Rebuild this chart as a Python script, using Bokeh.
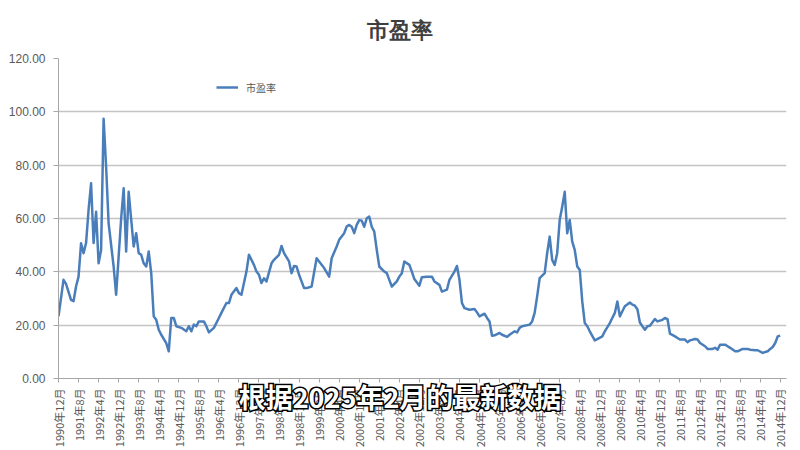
from bokeh.plotting import figure
from bokeh.models import (Range1d, FixedTicker, NumeralTickFormatter, Legend, LegendItem,
                          Title, ColumnDataSource, Div)
from bokeh.layouts import column
from bokeh.embed import file_html
from bokeh.resources import INLINE
import math

# months counted from 1990-12 (0 = 1990年12月)
month_offset = [0, 2, 3, 5, 6, 7, 8, 9, 10, 11, 12, 13, 14, 15, 16, 17, 18, 19, 20, 22, 23, 25, 26, 27, 28, 30,
                31, 32, 33, 34, 35, 36, 37, 38, 39, 40, 41, 43, 44, 45, 46, 47, 49, 51, 52, 53, 54, 55, 56, 58,
                59, 60, 62, 64, 65, 67, 68, 69, 71, 72, 73, 74, 75, 76, 78, 79, 80, 81, 82, 83, 85, 86, 88, 89,
                90, 92, 93, 94, 95, 96, 98, 99, 101, 103, 104, 106, 108, 109, 111, 112, 114, 115, 116, 117, 118,
                119, 120, 121, 122, 123, 124, 125, 126, 127, 128, 130, 131, 132, 133, 135, 136, 137, 138, 140,
                141, 142, 144, 145, 147, 149, 150, 152, 153, 155, 156, 158, 159, 160, 161, 162, 164, 166, 167,
                168, 170, 171, 172, 173, 174, 176, 177, 179, 180, 182, 183, 184, 185, 188, 189, 190, 191, 192,
                194, 195, 196, 197, 198, 199, 200, 201, 202, 203, 204, 205, 206, 207, 208, 209, 210, 211, 212,
                214, 215, 217, 218, 220, 222, 223, 224, 225, 226, 228, 229, 230, 231, 232, 233, 234, 235, 236,
                238, 239, 241, 242, 243, 244, 246, 247, 248, 250, 251, 252, 254, 255, 256, 258, 259, 261, 262,
                263, 264, 266, 267, 268, 270, 271, 273, 275, 276, 278, 279, 281, 283, 284, 285, 286, 287, 288]

pe = [23.3, 37.0, 35.5, 29.5, 29.0, 34.5, 38.2, 50.7, 47.0, 50.8, 63.2, 73.2, 50.8, 62.5, 43.2, 48.2, 97.4, 79.4,
      58.2, 42.0, 31.4, 60.0, 71.3, 47.6, 70.0, 49.5,
      54.5, 47.0, 46.4, 43.2, 42.0, 47.6, 39.5, 23.3, 22.0, 18.3, 16.4, 13.3, 10.2, 22.7, 22.7, 19.6, 19.0,
      17.7, 19.6, 17.7, 20.2, 19.6, 21.4, 21.4,
      19.6, 17.3, 19.0, 22.7, 24.6, 28.3, 28.3, 31.4, 33.9, 32.0, 31.4, 35.8, 40.1, 46.4, 42.6, 40.1, 38.9,
      35.8, 37.6, 36.4, 43.2, 44.5, 46.4, 49.7,
      47.0, 43.9, 39.5, 42.2, 42.0, 38.9, 33.9, 33.9, 34.5, 45.1, 43.9, 41.4, 38.2, 45.1, 49.5, 52.0, 54.5,
      57.0, 57.6, 56.9, 54.5,
      57.6, 59.4, 59.2, 56.9, 60.1, 60.7, 56.9, 55.1, 48.2, 42.0, 40.1, 39.5, 37.0, 34.5, 36.4, 38.2, 39.5,
      43.9, 42.6,
      40.1, 37.3, 34.8, 38.0, 38.2, 38.2, 36.4, 35.1, 32.6, 33.3, 37.0, 40.1, 42.2, 37.0, 28.3, 26.4, 25.8,
      26.1, 24.8,
      23.3, 24.3, 22.7, 21.4, 16.0, 16.2, 17.1, 16.4, 15.6, 16.4, 17.7, 17.3, 19.0, 19.6, 20.2, 21.4, 24.6,
      30.8, 37.6,
      39.5, 47.0, 53.2, 44.5, 42.6, 47.0, 59.4, 64.4, 70.0, 54.5, 59.4, 51.3, 48.2, 42.0, 40.7, 28.9, 20.8,
      19.6, 17.7,
      14.3, 14.8, 15.8, 17.7, 20.8, 24.6, 28.9, 23.3, 25.2, 27.1, 28.5, 27.7, 27.3, 26.0, 21.0, 19.6, 18.3,
      19.6, 19.8,
      22.3, 21.4, 22.0, 22.7, 22.3, 16.8, 15.8, 15.2, 14.6, 14.6, 13.6, 14.3, 14.8, 14.6, 13.3, 12.1, 11.1,
      11.1, 11.5,
      10.8, 12.7, 12.7, 12.1, 11.5, 10.2, 10.2, 11.1, 11.1, 10.8, 10.6, 10.6, 9.6, 10.2, 11.1, 11.8, 13.3,
      15.8, 16.1]

tick_months = list(range(0, 289, 8))
tick_labels = ["1990年12月", "1991年8月", "1992年4月", "1992年12月", "1993年8月", "1994年4月", "1994年12月",
               "1995年8月", "1996年4月", "1996年12月", "1997年8月", "1998年4月", "1998年12月", "1999年8月",
               "2000年4月", "2000年12月", "2001年8月", "2002年4月", "2002年12月", "2003年8月", "2004年4月",
               "2004年12月", "2005年8月", "2006年4月", "2006年12月", "2007年8月", "2008年4月", "2008年12月",
               "2009年8月", "2010年4月", "2010年12月", "2011年8月", "2012年4月", "2012年12月", "2013年8月",
               "2014年4月", "2014年12月"]
y_ticks = [0, 20, 40, 60, 80, 100, 120]

title_text = "市盈率"
series_name = "市盈率"
subtitle_text = "根据2025年2月的最新数据"

FONT = "Noto Sans CJK SC"
GRAY = "#595959"

p = figure(width=800, height=450, output_backend="svg", toolbar_location=None,
           x_range=Range1d(0, 290.5), y_range=Range1d(0, 120),
           min_border_left=58, min_border_right=14, min_border_top=58, min_border_bottom=71)
p.outline_line_color = None
p.background_fill_color = "white"
p.border_fill_color = "white"

t = Title(text=title_text, align="left", offset=308, text_font="Liberation Sans", text_font_size="22px",
          text_font_style="bold", text_color="#3f3f3f", standoff=31)
p.add_layout(t, "above")

src = ColumnDataSource(dict(x=month_offset, y=pe))
r = p.line("x", "y", source=src, line_color="#4a7ebb", line_width=2.5, line_join="round")

# axes
p.xaxis.ticker = FixedTicker(ticks=tick_months)
p.xaxis.major_label_overrides = {m: lab for m, lab in zip(tick_months, tick_labels)}
p.xaxis.major_label_orientation = math.pi / 2
p.xaxis.major_label_text_font = FONT
p.xaxis.major_label_text_font_size = "11px"
p.xaxis.major_label_text_color = GRAY
p.xaxis.major_label_standoff = 6
p.xaxis.axis_line_color = "#a6a6a6"
p.xaxis.major_tick_line_color = "#a6a6a6"
p.xaxis.major_tick_out = 4
p.xaxis.major_tick_in = 0
p.xaxis.minor_tick_line_color = None

p.yaxis.ticker = FixedTicker(ticks=y_ticks)
p.yaxis.formatter = NumeralTickFormatter(format="0.00")
p.yaxis.major_label_text_font = "Liberation Sans"
p.yaxis.major_label_text_font_size = "12px"
p.yaxis.major_label_text_color = GRAY
p.yaxis.major_label_standoff = 8
p.yaxis.axis_line_color = "#a6a6a6"
p.yaxis.major_tick_line_color = "#a6a6a6"
p.yaxis.major_tick_out = 5
p.yaxis.major_tick_in = 0
p.yaxis.minor_tick_line_color = None

p.xgrid.grid_line_color = None
p.ygrid.grid_line_color = "#c4c4c4"
p.ygrid.grid_line_width = 1.5

legend = Legend(items=[LegendItem(label=series_name, renderers=[r])], location=(158, 281),
                label_text_font=FONT, label_text_font_size="10px", label_text_color=GRAY,
                glyph_width=22, label_standoff=8, padding=0, margin=0,
                border_line_color=None, background_fill_alpha=0)
p.add_layout(legend, "center")

# video subtitle overlaid on the lower part of the chart
sub = Div(text=subtitle_text, width=800, height=34, margin=(-70, 0, 0, 0),
          styles={"position": "relative", "z-index": "10", "text-align": "center",
                  "color": "white", "font-family": "Noto Sans CJK SC", "font-weight": "bold",
                  "font-size": "27px", "line-height": "34px",
                  "-webkit-text-stroke": "3px black", "paint-order": "stroke fill"})

layout = column(p, sub, spacing=0)

open("out.html", "w").write(file_html(layout, INLINE))
